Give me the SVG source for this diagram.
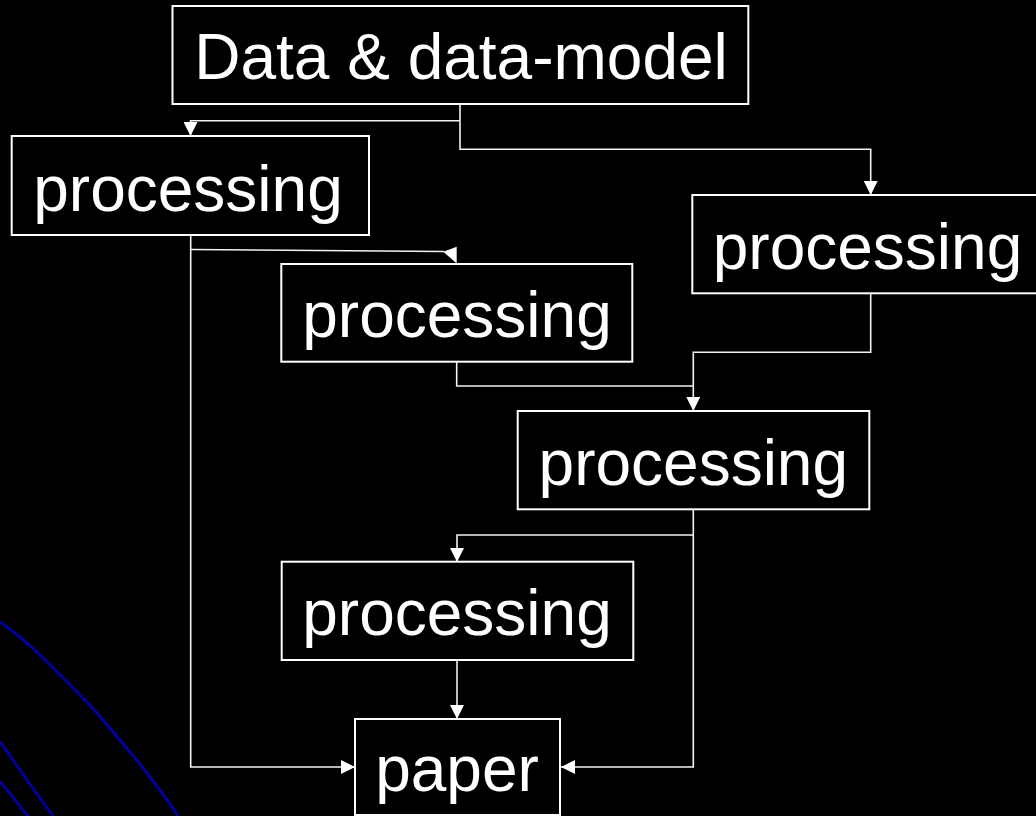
<svg xmlns="http://www.w3.org/2000/svg" width="1036" height="816" viewBox="0 0 1036 816">
<style>
.box{fill:#000;stroke:#fff;stroke-width:2}
.lbl{font-family:"Liberation Sans",Arial,sans-serif;font-size:64px;fill:#fff;text-anchor:middle}
.con{fill:none;stroke:#f2f2f2;stroke-width:1.6}
.deco{fill:none;stroke:#00009c;stroke-width:3}
</style>
<defs>
<marker id="arr" viewBox="0 0 10 10" refX="10" refY="5" markerWidth="14" markerHeight="14" markerUnits="userSpaceOnUse" orient="auto">
<path d="M0,0 L10,5 L0,10 z" fill="#fff"/>
</marker>
</defs>
<rect width="1036" height="816" fill="#000"/>
<g id="decoration">
<path class="deco" d="M0,621.7 C14,632 28,643 40,655 C60,675 80,694 97,713 C115,734 134,756 150,777 C160,790 170,803 178,816"/>
<path class="deco" d="M0,741.7 C5,748 10,756 15,763 C28,781 41,799 53,816"/>
<path class="deco" d="M0,781.7 C10,793 19,805 28,816"/>
</g>
<g id="connectors">
<path class="con" d="M460,104 V149.3 H870.7 V195" marker-end="url(#arr)"/>
<path class="con" d="M460,120.7 H190.5 V136" marker-end="url(#arr)"/>
<path class="con" d="M190.7,235 V767 H355" marker-end="url(#arr)"/>
<path class="con" d="M190.7,249.5 L444,251.5"/>
<polygon points="443.3,251.7 456.7,246.7 456.7,263.5" fill="#fff"/>
<path class="con" d="M456.7,362 V386 H693.3"/>
<path class="con" d="M870.7,293.3 V352.3 H693.3 V411" marker-end="url(#arr)"/>
<path class="con" d="M693.3,509.3 V767 H561" marker-end="url(#arr)"/>
<path class="con" d="M693.3,535 H457 V562" marker-end="url(#arr)"/>
<path class="con" d="M457,660 V719" marker-end="url(#arr)"/>
</g>
<g id="node-data">
<rect class="box" x="172.5" y="6" width="575.8" height="98"/>
<text class="lbl" x="461" y="79">Data &amp; data-model</text>
</g>
<g id="node-processing-1">
<rect class="box" x="11.7" y="136" width="357.3" height="99"/>
<text class="lbl" x="188" y="210.5">processing</text>
</g>
<g id="node-processing-2">
<rect class="box" x="281.3" y="264" width="351" height="97.7"/>
<text class="lbl" x="457" y="337">processing</text>
</g>
<g id="node-processing-3">
<rect class="box" x="692.3" y="195" width="351" height="98.3"/>
<text class="lbl" x="867.5" y="268.5">processing</text>
</g>
<g id="node-processing-4">
<rect class="box" x="517.7" y="411" width="351.6" height="98.3"/>
<text class="lbl" x="693.3" y="485">processing</text>
</g>
<g id="node-processing-5">
<rect class="box" x="281.7" y="561.7" width="351.6" height="98.3"/>
<text class="lbl" x="457" y="635">processing</text>
</g>
<g id="node-paper">
<rect class="box" x="355" y="719" width="205" height="96"/>
<text class="lbl" x="457" y="791">paper</text>
</g>
</svg>
